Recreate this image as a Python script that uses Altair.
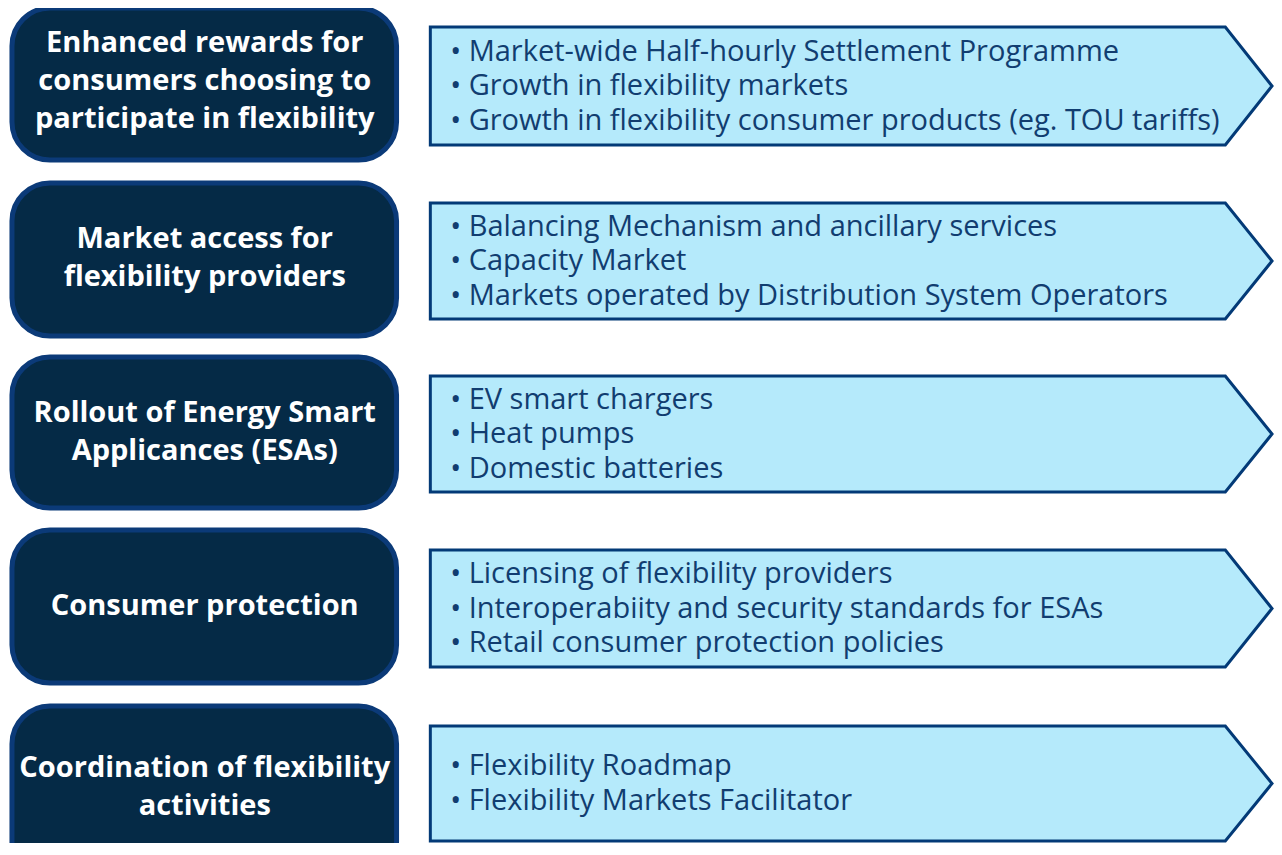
import altair as alt
import pandas as pd

# ---- content ----
titles = [
    ["Enhanced rewards for", "consumers choosing to", "participate in flexibility"],
    ["Market access for", "flexibility providers"],
    ["Rollout of Energy Smart", "Applicances (ESAs)"],
    ["Consumer protection"],
    ["Coordination of flexibility", "activities"],
]
items = [
    ["Market-wide Half-hourly Settlement Programme",
     "Growth in flexibility markets",
     "Growth in flexibility consumer products (eg. TOU tariffs)"],
    ["Balancing Mechanism and ancillary services",
     "Capacity Market",
     "Markets operated by Distribution System Operators"],
    ["EV smart chargers", "Heat pumps", "Domestic batteries"],
    ["Licensing of flexibility providers",
     "Interoperabiity and security standards for ESAs",
     "Retail consumer protection policies"],
    ["Flexibility Roadmap", "Flexibility Markets Facilitator"],
]

# ---- layout (page pixel coordinates) ----
box_top = [8, 183, 357, 530, 706]
box_bot = [160, 336, 508, 683, 880]
title_mid = [81, 258, 432, 606, 787]
arr_top = [27, 203, 376, 550, 726]
arr_bot = [145, 319, 492, 667, 841]
X0, X1 = 8, 1282
Y0, Y1 = 8, 843
W, H = 1266, 835

boxes = pd.DataFrame({"row": range(5), "y": box_top, "y2": box_bot})

arrow_frames = []
for i in range(5):
    mid = (arr_top[i] + arr_bot[i]) / 2
    arrow_frames.append(pd.DataFrame({
        "x": [433, 1233, 1280],
        "y": [arr_top[i], arr_top[i], mid],
        "y2": [arr_bot[i], arr_bot[i], mid],
    }))

tl = []
for i, lines in enumerate(titles):
    n = len(lines)
    for j, s in enumerate(lines):
        tl.append({"y": title_mid[i] + (j - (n - 1) / 2) * 38, "t": s})
title_df = pd.DataFrame(tl)

il = []
for i, lines in enumerate(items):
    n = len(lines)
    mid = (arr_top[i] + arr_bot[i]) / 2
    for j, s in enumerate(lines):
        il.append({"y": mid + (j - (n - 1) / 2) * 34.5, "t": "\u2022 " + s})
item_df = pd.DataFrame(il)

xs = alt.Scale(domain=[X0, X1])
ys = alt.Scale(domain=[Y0, Y1], reverse=True)

box_layer = alt.Chart(boxes).mark_rect(
    cornerRadius=38, fill="#052a46", stroke="#0b3a78", strokeWidth=5, clip=True
).encode(
    x=alt.X("xa:Q", scale=xs, axis=None),
    x2="xb:Q",
    y=alt.Y("y:Q", scale=ys, axis=None),
    y2="y2:Q",
).transform_calculate(xa="12", xb="399")

arrow_layers = [
    alt.Chart(df).mark_area(
        orient="vertical", fill="#b5eafb", stroke="#033a77", strokeWidth=3,
        fillOpacity=1, clip=True
    ).encode(
        x=alt.X("x:Q", scale=xs, axis=None),
        y=alt.Y("y:Q", scale=ys, axis=None),
        y2="y2:Q",
    )
    for df in arrow_frames
]

title_layer = alt.Chart(title_df).mark_text(
    font="Open Sans", fontWeight="bold", fontSize=29, color="white",
    align="center", baseline="middle"
).encode(
    x=alt.X("xc:Q", scale=xs, axis=None),
    y=alt.Y("y:Q", scale=ys, axis=None),
    text="t:N",
).transform_calculate(xc="206")

item_layer = alt.Chart(item_df).mark_text(
    font="Open Sans", fontSize=29, color="#113d70",
    align="left", baseline="middle"
).encode(
    x=alt.X("xl:Q", scale=xs, axis=None),
    y=alt.Y("y:Q", scale=ys, axis=None),
    text="t:N",
).transform_calculate(xl="453")

chart = alt.layer(box_layer, *arrow_layers, title_layer, item_layer).properties(
    width=W, height=H,
    autosize=alt.AutoSizeParams(type="none"),
    padding=0,
).configure_view(stroke=None)

chart.save("out.html", embed_options={"renderer": "svg", "actions": False})
